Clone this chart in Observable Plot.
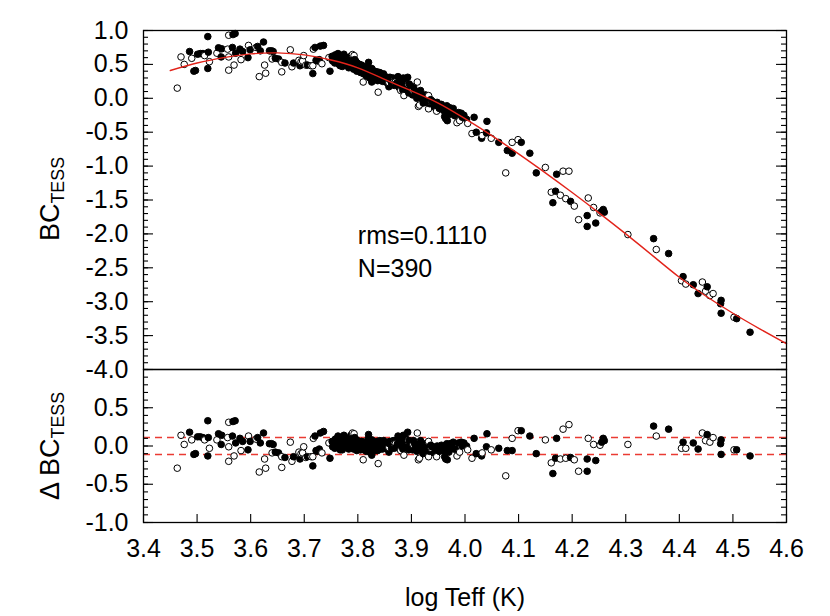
<!DOCTYPE html>
<html><head><meta charset="utf-8">
<script src="https://cdn.jsdelivr.net/npm/d3@7"></script>
<script src="https://cdn.jsdelivr.net/npm/@observablehq/plot@0.6"></script>
<style>
body{margin:0;background:#fff;}
#wrap{position:relative;width:830px;height:616px;font-family:"Liberation Sans",Arial,sans-serif;color:#000;background:#fff;}
#wrap svg{position:absolute;left:0;overflow:visible}
.lab{position:absolute;white-space:nowrap;line-height:1;}
.rot{transform:translate(-50%,-50%) rotate(-90deg);}
.ctr{transform:translate(-50%,-50%);}
.sub{font-size:0.66em;position:relative;top:0.3em;}
</style></head><body><div id="wrap"></div>
<script>
// [logTeff, BC_TESS, residual ΔBC_TESS, filled(1)/open(0)]
const coolStars = [
[3.463,0.15,-0.29,0],[3.470,0.61,0.14,0],[3.476,0.50,0.02,0],[3.486,0.69,0.18,1],[3.490,0.59,0.08,0],
[3.494,0.40,-0.11,1],[3.497,0.41,-0.10,1],[3.501,0.65,0.12,1],[3.506,0.66,0.12,1],[3.511,0.66,0.11,1],
[3.514,0.63,0.08,0],[3.520,0.91,0.33,1],[3.521,0.68,0.11,1],[3.523,0.54,-0.03,0],[3.520,0.44,-0.13,1],
[3.537,0.665,0.08,0],[3.540,0.745,0.16,1],[3.546,0.73,0.14,1],[3.545,0.61,0.02,1],[3.557,0.725,0.11,0],
[3.559,0.93,0.31,0],[3.559,0.61,-0.01,0],[3.559,0.415,-0.20,0],[3.566,0.75,0.13,1],[3.567,0.94,0.32,1],
[3.571,0.955,0.33,1],[3.569,0.49,-0.13,0],[3.572,0.665,0.04,1],[3.580,0.725,0.10,1],[3.582,0.57,-0.06,0],
[3.585,0.69,0.06,1],[3.595,0.60,-0.05,1],[3.596,0.78,0.13,0],[3.599,0.715,0.06,1],[3.610,0.75,0.09,0],
[3.613,0.765,0.11,1],[3.616,0.32,-0.34,0],[3.618,0.70,0.04,1],[3.624,0.83,0.17,1],[3.626,0.49,-0.17,0],
[3.628,0.37,-0.29,0],[3.635,0.70,0.03,1],[3.639,0.70,0.03,1],[3.640,0.58,-0.09,0],[3.642,0.69,0.02,1],
[3.646,0.59,-0.08,1],[3.652,0.58,-0.09,1],[3.658,0.39,-0.28,0],[3.658,0.53,-0.14,0],[3.664,0.52,-0.15,1],
[3.674,0.715,0.05,0],[3.677,0.465,-0.20,0],[3.680,0.52,-0.14,1],[3.690,0.56,-0.08,0],[3.692,0.48,-0.17,1],
[3.694,0.54,-0.10,0],[3.697,0.55,-0.09,0],[3.699,0.63,-0.01,0],[3.703,0.49,-0.15,0],[3.706,0.49,-0.14,1],
[3.713,0.48,-0.14,0],[3.716,0.365,-0.26,1],[3.716,0.48,-0.14,0],[3.717,0.725,0.10,0],[3.720,0.75,0.13,1],
[3.722,0.56,-0.06,1],[3.725,0.55,-0.07,1],[3.728,0.57,-0.04,1],[3.730,0.77,0.17,1],[3.733,0.51,-0.09,0],
[3.736,0.78,0.19,1],[3.746,0.60,0.04,0],[3.748,0.40,-0.16,1]
];
const midStars = [
[3.752,0.62,0.06,1],[3.753,0.55,-0.01,1],[3.755,0.58,0.03,1],[3.757,0.52,-0.03,1],[3.758,0.64,0.09,1],
[3.759,0.59,0.05,1],[3.760,0.55,0.01,1],[3.762,0.60,0.06,1],[3.763,0.66,0.13,1],[3.764,0.56,0.03,1],
[3.765,0.50,-0.03,1],[3.766,0.57,0.04,1],[3.767,0.48,-0.05,1],[3.768,0.62,0.10,1],[3.769,0.58,0.06,1],
[3.770,0.54,0.02,1],[3.771,0.47,-0.05,1],[3.772,0.60,0.09,1],[3.773,0.55,0.04,1],[3.774,0.65,0.14,1],
[3.775,0.52,0.01,1],[3.776,0.61,0.10,1],[3.777,0.56,0.06,1],[3.778,0.49,-0.01,1],[3.779,0.52,0.02,1],
[3.780,0.60,0.10,1],[3.781,0.53,0.04,1],[3.782,0.58,0.09,1],[3.783,0.45,-0.04,1],[3.784,0.57,0.08,1],
[3.785,0.47,-0.01,1],[3.786,0.50,0.02,1],[3.787,0.62,0.14,1],[3.788,0.55,0.07,1],[3.789,0.48,0.01,1],
[3.790,0.54,0.07,1],[3.790,0.645,0.17,0],[3.791,0.50,0.03,1],[3.792,0.43,-0.04,1],[3.793,0.51,0.04,1],
[3.793,0.63,0.16,0],[3.794,0.57,0.11,1],[3.795,0.46,0.00,1],[3.796,0.55,0.09,1],[3.797,0.44,-0.02,1],
[3.798,0.40,-0.06,1],[3.799,0.52,0.07,1],[3.800,0.48,0.03,1],[3.801,0.44,-0.01,1],[3.802,0.46,0.02,1],
[3.803,0.50,0.06,1],[3.804,0.42,-0.02,1],[3.805,0.38,-0.05,1],[3.806,0.45,0.02,1],[3.807,0.49,0.06,1],
[3.808,0.41,-0.01,1],[3.809,0.40,-0.02,1],[3.810,0.47,0.05,1],[3.810,0.24,-0.18,0],[3.811,0.36,-0.05,1],
[3.812,0.45,0.04,1],[3.813,0.43,0.02,1],[3.814,0.36,-0.04,1],[3.815,0.39,-0.01,1],[3.816,0.33,-0.07,1],
[3.817,0.42,0.03,1],[3.818,0.44,0.05,1],[3.819,0.47,0.09,1],[3.820,0.37,-0.01,1],[3.820,0.53,0.15,1],
[3.821,0.34,-0.04,1],[3.822,0.30,-0.08,1],[3.823,0.40,0.03,1],[3.824,0.38,0.01,1],[3.825,0.35,-0.02,1],
[3.826,0.24,-0.12,1],[3.826,0.44,0.08,1],[3.827,0.42,0.06,1],[3.828,0.33,-0.02,1],[3.829,0.31,-0.04,1],
[3.830,0.37,0.02,1],[3.831,0.40,0.05,1],[3.832,0.28,-0.06,1],[3.833,0.31,-0.03,1],[3.834,0.34,0.01,1],
[3.835,0.36,0.03,1],[3.836,0.39,0.06,1],[3.837,0.26,-0.06,1],[3.838,0.30,-0.02,1],[3.838,0.09,-0.23,0],
[3.839,0.33,0.01,1],[3.840,0.35,0.04,1],[3.841,0.38,0.07,1],[3.842,0.27,-0.04,1],[3.843,0.29,-0.01,1],
[3.845,0.32,0.02,1],[3.846,0.25,-0.04,1],[3.848,0.36,0.07,1],[3.849,0.31,0.03,1],[3.850,0.29,0.01,1],
[3.852,0.24,-0.03,1],[3.853,0.27,0.00,1],[3.855,0.31,0.05,1],[3.856,0.22,-0.04,1],[3.858,0.17,-0.08,1],
[3.858,0.23,-0.02,0],[3.859,0.28,0.03,1],[3.860,0.31,0.06,1],[3.862,0.26,0.02,1],[3.863,0.21,-0.03,1],
[3.865,0.26,0.03,1],[3.866,0.30,0.07,1],[3.868,0.19,-0.03,1],[3.868,0.26,0.04,0]
];
const warmStars = [
[3.870,0.28,0.07,1],[3.870,0.24,0.03,0],[3.872,0.22,-0.01,1],[3.874,0.23,0.03,1],[3.875,0.32,0.13,1],
[3.877,0.16,-0.03,1],[3.878,0.27,0.08,1],[3.880,0.115,-0.06,0],[3.881,0.21,0.04,1],[3.882,0.18,0.00,1],
[3.884,0.12,-0.04,1],[3.885,0.30,0.14,1],[3.886,0.04,-0.12,0],[3.887,0.19,0.04,1],[3.889,0.25,0.10,1],
[3.891,0.14,0.00,1],[3.893,0.31,0.18,1],[3.894,0.20,0.07,0],[3.895,0.08,-0.05,1],[3.896,0.21,0.07,1],
[3.898,0.17,0.05,1],[3.899,0.13,0.00,1],[3.900,0.15,0.04,1],[3.902,0.05,-0.05,1],[3.903,0.12,0.02,0],
[3.904,0.17,0.07,1],[3.906,0.12,0.03,1],[3.908,0.09,0.00,1],[3.910,0.00,-0.07,1],[3.911,0.24,0.17,0],
[3.913,-0.12,-0.18,0],[3.914,0.06,0.00,1],[3.915,-0.10,-0.16,0],[3.917,0.115,0.07,1],[3.918,0.00,-0.05,1],
[3.920,0.03,-0.01,1],[3.922,-0.07,-0.10,1],[3.923,-0.03,-0.06,1],[3.925,0.01,-0.01,1],[3.926,0.05,0.03,1],
[3.928,-0.06,-0.08,1],[3.930,-0.01,-0.01,1],[3.932,0.04,0.06,0],[3.932,-0.155,-0.14,0],[3.934,-0.08,-0.07,1],
[3.936,-0.02,0.01,1],[3.937,-0.05,-0.03,0],[3.938,-0.04,-0.01,1],[3.940,-0.05,-0.01,1],[3.943,-0.13,-0.09,1],
[3.945,-0.08,-0.03,1],[3.947,-0.19,-0.14,0],[3.948,-0.06,0.00,1],[3.950,-0.12,-0.05,1],[3.952,-0.15,-0.07,1],
[3.954,-0.10,-0.01,1],[3.956,-0.09,0.01,1],[3.958,-0.16,-0.05,1],[3.960,-0.18,-0.06,1],[3.962,-0.13,0.00,1],
[3.962,-0.27,-0.14,1],[3.964,-0.30,-0.17,1],[3.966,-0.11,0.03,1],[3.967,-0.33,-0.18,1],[3.968,-0.20,-0.05,1],
[3.970,-0.24,-0.08,1],[3.972,-0.14,0.03,1],[3.975,-0.19,0.00,1],[3.978,-0.15,0.05,1],[3.980,-0.25,-0.04,1],
[3.982,-0.26,-0.04,1],[3.985,-0.36,-0.13,0],[3.988,-0.21,0.04,1],[3.990,-0.33,-0.08,0],[3.993,-0.22,0.05,1],
[3.995,-0.28,0.00,1],[3.998,-0.25,0.04,1],[4.003,-0.31,0.00,1],[4.005,-0.37,-0.05,0],[4.013,-0.52,-0.16,0],
[4.017,-0.28,0.10,1],[4.021,-0.50,-0.10,1],[4.031,-0.59,-0.13,1],[4.032,-0.55,-0.09,0],[4.040,-0.51,-0.01,1],
[4.041,-0.34,0.16,1],[4.049,-0.59,-0.05,0]
];
const hotStars = [
[4.063,-0.65,-0.03,1],[4.076,-1.10,-0.39,0],[4.079,-0.77,-0.06,1],[4.088,-0.81,-0.06,1],[4.088,-0.65,0.10,0],
[4.099,-0.61,0.20,0],[4.105,-0.65,0.20,1],[4.121,-0.81,0.13,1],[4.133,-1.10,-0.10,1],[4.150,-1.02,0.08,0],
[4.161,-1.385,-0.22,0],[4.164,-1.54,-0.36,1],[4.169,-1.37,-0.16,1],[4.171,-1.12,0.10,1],[4.178,-1.43,-0.17,0],
[4.183,-1.075,0.22,0],[4.188,-1.48,-0.16,0],[4.194,-1.075,0.28,0],[4.197,-1.52,-0.15,1],[4.204,-1.59,-0.18,0],
[4.212,-1.79,-0.33,0],[4.228,-1.73,-0.17,1],[4.228,-1.89,-0.33,1],[4.230,-1.47,0.10,0],[4.240,-1.61,0.02,0],
[4.244,-1.84,-0.19,1],[4.252,-1.69,0.01,0],[4.255,-1.67,0.05,1],[4.258,-1.64,0.10,1],[4.260,-1.68,0.07,1],
[4.304,-2.01,0.02,0],[4.352,-2.07,0.26,1],[4.357,-2.23,0.13,0],[4.380,-2.29,0.22,1],[4.404,-2.69,-0.03,0],
[4.407,-2.63,0.05,1],[4.412,-2.74,-0.03,0],[4.426,-2.75,0.04,1],[4.435,-2.88,-0.04,1],[4.443,-2.71,0.17,0],
[4.449,-2.845,0.07,0],[4.452,-2.78,0.15,1],[4.457,-2.91,0.05,0],[4.463,-2.88,0.11,0],[4.477,-3.03,0.03,1],
[4.478,-2.98,0.08,1],[4.478,-3.17,-0.11,1],[4.502,-3.23,-0.05,0],[4.507,-3.25,-0.05,1],[4.532,-3.45,-0.13,1]
];
// fitted relation
const fitLogTeff = [3.45,3.50,3.55,3.60,3.65,3.70,3.75,3.80,3.85,3.90,3.95,4.00,4.05,4.10,4.15,4.20,4.25,4.30,4.35,4.40,4.45,4.50,4.55,4.60];
const fitBC      = [0.41,0.52,0.60,0.655,0.67,0.64,0.565,0.45,0.28,0.11,-0.07,-0.30,-0.55,-0.82,-1.10,-1.39,-1.69,-2.00,-2.32,-2.64,-2.92,-3.17,-3.40,-3.62];
const rms = 0.1110;
const nStars = 390;
const xTicks = [3.4,3.5,3.6,3.7,3.8,3.9,4.0,4.1,4.2,4.3,4.4,4.5,4.6];
const yTicksTop = [1.0,0.5,0.0,-0.5,-1.0,-1.5,-2.0,-2.5,-3.0,-3.5,-4.0];
const yTicksBot = [0.5,0.0,-0.5,-1.0];
const yMinorTop = d3.ticks(-4, 1, 50);
const yMinorBot = d3.ticks(-1, 1, 20);

const stars = [...coolStars, ...midStars, ...warmStars, ...hotStars].map(([t,b,d,f]) => ({t,b,d,f}));
const fit = fitLogTeff.map((t,i) => ({t, b: fitBC[i]}));
const fmt = d => d.toFixed(1);
const W = 830, ML = 143, MR = 44, PW = W - ML - MR;
const style = {fontFamily:'"Liberation Sans", Arial, sans-serif', fontSize:"25px", background:"transparent", color:"#000", overflow:"visible"};
const red = "#e2231a";
const tk = {stroke: "#000", strokeWidth: 1.1};

function yAxes(majors, minors) {
  return [
    Plot.tickY(minors, {y: d => d, insetRight: PW - 5, ...tk}),
    Plot.tickY(minors, {y: d => d, insetLeft: PW - 5, ...tk}),
    Plot.tickY(majors, {y: d => d, insetRight: PW - 10, ...tk}),
    Plot.tickY(majors, {y: d => d, insetLeft: PW - 10, ...tk}),
    Plot.axisY(majors, {tickSize: 0, tickPadding: 15, tickFormat: fmt, label: null, fontSize: 25})
  ];
}
const dotOpts = {r: 3.3, fill: d => d.f ? "#000" : "#fff", stroke: "#000", strokeWidth: 1};

const topPlot = Plot.plot({
  width: W, height: 369, marginLeft: ML, marginRight: MR, marginTop: 30, marginBottom: 0,
  style,
  x: {domain: [3.4, 4.6], axis: null},
  y: {domain: [-4, 1], label: null},
  color: {type: "identity"},
  marks: [
    ...yAxes(yTicksTop, yMinorTop),
    Plot.dot(stars, {x: "t", y: "b", ...dotOpts}),
    Plot.line(fit, {x: "t", y: "b", stroke: red, strokeWidth: 1.4, curve: "natural"}),
    Plot.text([`rms=${rms.toFixed(4)}`, `N=${nStars}`], {x: 3.80, y: (d, i) => i ? -2.52 : -2.03, text: d => d, textAnchor: "start", fontSize: 25}),
    Plot.frame({stroke: "#000", strokeWidth: 1.3})
  ]
});
topPlot.style.top = "0px";

const BH = 247, MB = 94;
const botPlot = Plot.plot({
  width: W, height: BH, marginLeft: ML, marginRight: MR, marginTop: 0, marginBottom: MB,
  style,
  x: {domain: [3.4, 4.6]},
  y: {domain: [-1, 1], label: null},
  color: {type: "identity"},
  marks: [
    Plot.ruleY([rms, -rms], {stroke: "#ea3b33", strokeWidth: 1.3, strokeDasharray: "7,5"}),
    ...yAxes(yTicksBot, yMinorBot),
    Plot.tickX(xTicks, {x: d => d, insetTop: BH - MB - 8, ...tk}),
    Plot.axisX(xTicks, {tickSize: 0, tickPadding: 17, tickFormat: fmt, label: null, fontSize: 25}),
    Plot.dot(stars, {x: "t", y: "d", ...dotOpts}),
    Plot.frame({stroke: "#000", strokeWidth: 1.3})
  ]
});
botPlot.style.top = "369px";

const wrap = document.getElementById("wrap");
wrap.appendChild(topPlot);
wrap.appendChild(botPlot);
function addLabel(html, x, y, cls, size) {
  const d = document.createElement("div");
  d.className = "lab " + cls;
  d.style.left = x + "px"; d.style.top = y + "px"; d.style.fontSize = size + "px";
  d.innerHTML = html;
  wrap.appendChild(d);
}
addLabel('BC<span class="sub">TESS</span>', 50, 199, "rot", 27);
addLabel('Δ BC<span class="sub">TESS</span>', 50, 446, "rot", 27);
addLabel('log Teff (K)', 465, 597, "ctr", 25);
</script></body></html>
